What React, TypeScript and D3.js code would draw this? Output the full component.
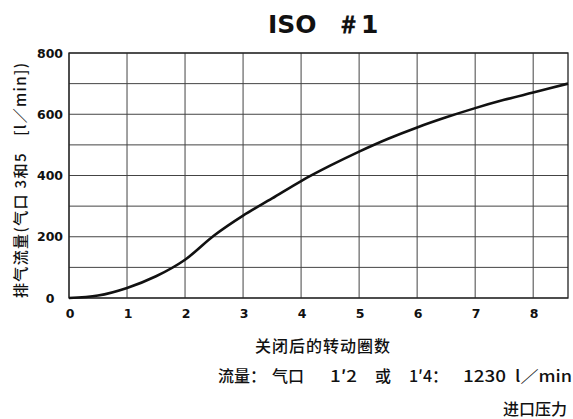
import * as d3 from 'd3';

// data
const turns = [0, 0.5, 1, 1.5, 2, 2.5, 3, 3.5, 4, 4.5, 5, 5.5, 6, 6.5, 7, 7.5, 8, 8.6];
const flow = [0, 8, 33, 71, 125, 204, 269, 325, 382, 432, 478, 520, 557, 590, 620, 647, 671, 700];
const xTicks = [0, 1, 2, 3, 4, 5, 6, 7, 8];
const yTicks = [0, 200, 400, 600, 800];
const yGrid = [0, 100, 200, 300, 400, 500, 600, 700, 800];

const titleA = 'ISO';
const titleB = '＃1';
const yLabel = '排气流量(气口 3和5　[l／min])';
const xLabel = '关闭后的转动圈数';
// pieces of the flow note, where each piece starts, and its width where it is stretched
const notePieces = ['流量：', '气口', '1′2', '或', '1′4：', '1230', 'l／min'];
const noteStarts = [218, 272, 330, 375, 409, 463, 515];
const noteWidths = [0, 0, 27, 0, 0, 43, 57];
const note2 = '进口压力';

const W = 573;
const H = 419;
const margin = { top: 53, right: 5, bottom: 121, left: 69 };

export default function App() {
    const x = d3.scaleLinear().domain([0, 8.6]).range([margin.left, W - margin.right]);
    const y = d3.scaleLinear().domain([0, 800]).range([H - margin.bottom, margin.top]);

    const line = d3.line<number>()
        .x((_, i) => x(turns[i]))
        .y(d => y(d))
        .curve(d3.curveCatmullRom.alpha(0.5));

    const cjk = '"Noto Sans CJK SC", "DejaVu Sans", sans-serif';
    const bold = '"DejaVu Sans", sans-serif';

    return (
        <svg width={W} height={H} style={{ position: 'absolute', left: 0, top: 0, background: '#fff' }}>
            <text x={268} y={33} fontFamily={bold} fontWeight="bold" fontSize={25} fill="#111">
                <tspan>{titleA}</tspan>
                <tspan x={336}>{titleB}</tspan>
            </text>

            {/* grid */}
            {yGrid.map(v => (
                <line key={'h' + v} x1={x(0)} x2={x(8.6)} y1={y(v)} y2={y(v)} stroke="#444" strokeWidth={1} />
            ))}
            {xTicks.map(v => (
                <line key={'v' + v} x1={x(v)} x2={x(v)} y1={y(0)} y2={y(800)} stroke="#444" strokeWidth={1} />
            ))}
            <rect x={x(0)} y={y(800)} width={x(8.6) - x(0)} height={y(0) - y(800)} fill="none" stroke="#222" strokeWidth={1.3} />

            {/* curve */}
            <path d={line(flow) ?? ''} fill="none" stroke="#111" strokeWidth={2.6} />

            {/* tick labels */}
            {yTicks.map(v => (
                <text key={'yt' + v} x={50} y={y(v) + 4.5} textAnchor="middle" fontFamily={bold} fontWeight="bold" fontSize={12.5} fill="#111">
                    {v}
                </text>
            ))}
            {xTicks.map(v => (
                <text key={'xt' + v} x={x(v) + 1} y={318} textAnchor="middle" fontFamily={bold} fontWeight="bold" fontSize={12.5} fill="#111">
                    {v}
                </text>
            ))}

            {/* axis titles */}
            <text transform="translate(26,298) rotate(-90)" x={0} y={0} textLength={235} lengthAdjust="spacing" fontFamily={cjk} fontWeight={500} fontSize={15} fill="#111">
                {yLabel}
            </text>
            <text x={255} y={352} textLength={135} lengthAdjust="spacing" fontFamily={cjk} fontWeight={500} fontSize={16} fill="#111">
                {xLabel}
            </text>
            {notePieces.map((p, i) => (
                <text
                    key={'n' + i}
                    x={noteStarts[i]}
                    y={382}
                    textLength={noteWidths[i] || undefined}
                    lengthAdjust={noteWidths[i] ? 'spacingAndGlyphs' : undefined}
                    fontFamily={cjk}
                    fontWeight={500}
                    fontSize={16}
                    fill="#111"
                >
                    {p}
                </text>
            ))}
            <text x={503} y={415} fontFamily={cjk} fontWeight={500} fontSize={16} fill="#111">
                {note2}
            </text>
        </svg>
    );
}
